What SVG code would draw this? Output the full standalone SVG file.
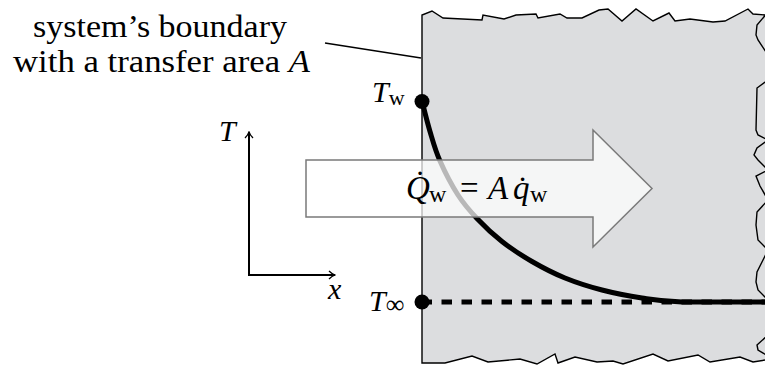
<svg xmlns="http://www.w3.org/2000/svg" width="765" height="365" viewBox="0 0 765 365">
<style>
  .txt { font-family: "Liberation Serif", "Times New Roman", serif; fill: #000; }
  .math { font-family: "Liberation Serif", "Times New Roman", serif; font-style: italic; fill: #000; }
  .up { font-style: normal; }
  .edge { fill: none; stroke: #000; stroke-width: 1.4; stroke-linejoin: miter; }
  .axis { fill: none; stroke: #000; stroke-width: 2; }
</style>
<defs>
  <marker id="chev" viewBox="0 0 10 10" refX="9" refY="5" markerWidth="10" markerHeight="10" markerUnits="userSpaceOnUse" orient="auto">
    <path d="M3,1 Q6,4 9,5 Q6,6 3,9" fill="none" stroke="#000" stroke-width="1.3"/>
  </marker>
</defs>
<rect width="765" height="365" fill="#fff"/>

<g id="system">
  <path d="M422,15 L432,11 L443,18 L482,20 L483,15 L504,19 L516,15 L536,14 L538,18 L560,14 L567,18 L582,18 L599,10 L608,9 L622,21 L636,9 L653,21 L669,13 L675,21 L690,19 L713,22 L725,21 L748,9 L753,14 L765,15 L765,360 L753,362 L740,357 L710,362 L698,355 L668,361 L653,354 L623,364 L613,361 L597,362 L575,357 L558,363 L555,354 L537,364 L520,359 L488,362 L472,356 L445,363 L422,363 Z" fill="#dcdddf"/>
  <path class="edge" d="M765,15 L753,14 L748,9 L725,21 L713,22 L690,19 L675,21 L669,13 L653,21 L636,9 L622,21 L608,9 L599,10 L582,18 L567,18 L560,14 L538,18 L536,14 L516,15 L504,19 L483,15 L482,20 L443,18 L432,11 L422,15 L422,363 L445,363 L472,356 L488,362 L520,359 L537,364 L555,354 L558,363 L575,357 L597,362 L613,361 L623,364 L653,354 L668,361 L698,355 L710,362 L740,357 L753,362 L765,360"/>
  <path class="edge" d="M768,12 L757,25 L756,35 L758,40 L768,55 L768,80 L757,88 L756,130 L758,135 L768,140 L757,148 L754,155 L758,160 L768,170 L756,176 L760,186 L768,200 L757,212 L756,225 L758,240 L768,250 L757,272 L756,282 L758,290 L768,300 L768,335 L757,345 L758,350 L768,356"/>
</g>

<g id="profile">
  <line x1="422" y1="302" x2="765" y2="302" stroke="#000" stroke-width="5" stroke-dasharray="10.5 9.5" stroke-dashoffset="0.5"/>
  <path d="M422,101 C423.3,106.1 427,121.5 430,131.5 C433,141.5 435.3,150.4 440,161 C444.7,171.6 451.8,185.4 458,195 C464.2,204.6 469.7,210.75 477,218.5 C484.3,226.25 492.8,234.3 502,241.5 C511.2,248.7 521.5,255.4 532,261.5 C542.5,267.6 553.3,273.25 565,278 C576.7,282.75 589.2,286.7 602,290 C614.8,293.3 628.7,296 642,298 C655.3,300 661.5,301.3 682,302 L765,302" fill="none" stroke="#000" stroke-width="5"/>
  <circle id="dot-Tw" cx="422" cy="101.5" r="7.5" fill="#000"/>
  <circle id="dot-Tinf" cx="422" cy="302" r="7.5" fill="#000"/>
</g>

<g id="heat-arrow">
  <polygon points="306,160 593,160 593,130 652,188.5 593,247 593,217 306,217" fill="#fff" fill-opacity="0.72" stroke="#7a7a7a" stroke-width="1.5"/>
  <text class="math" font-size="33"><tspan x="406" y="199">Q̇</tspan><tspan class="up" x="429" y="202" font-size="24">w</tspan><tspan class="up" x="460" y="199">=</tspan><tspan x="488" y="199">A</tspan><tspan x="513" y="199">q̇</tspan><tspan class="up" x="530" y="202" font-size="24">w</tspan></text>
</g>

<g id="connectors">
  <line x1="325" y1="43" x2="421" y2="58" stroke="#000" stroke-width="1.3"/>
  <line class="axis" x1="249" y1="276" x2="249" y2="132" marker-end="url(#chev)"/>
  <line class="axis" x1="248" y1="275" x2="335" y2="275" marker-end="url(#chev)"/>
</g>

<g id="label-boundary">
  <text class="txt" x="33" y="37" font-size="32" textLength="254" lengthAdjust="spacingAndGlyphs">system’s boundary</text>
  <text class="txt" x="13" y="72" font-size="32" textLength="297" lengthAdjust="spacingAndGlyphs">with a transfer area <tspan font-style="italic">A</tspan></text>
</g>

<g id="label-Tw">
  <text class="math" x="372" y="102" font-size="30">T<tspan class="up" font-size="22" dy="3">w</tspan></text>
</g>
<g id="label-Tinf">
  <text class="math" x="369" y="311" font-size="30">T<tspan class="up" font-size="26" dy="2">∞</tspan></text>
</g>
<g id="label-axes">
  <text class="math" x="219" y="141" font-size="30">T</text>
  <text class="math" x="328" y="299" font-size="30">x</text>
</g>
</svg>
